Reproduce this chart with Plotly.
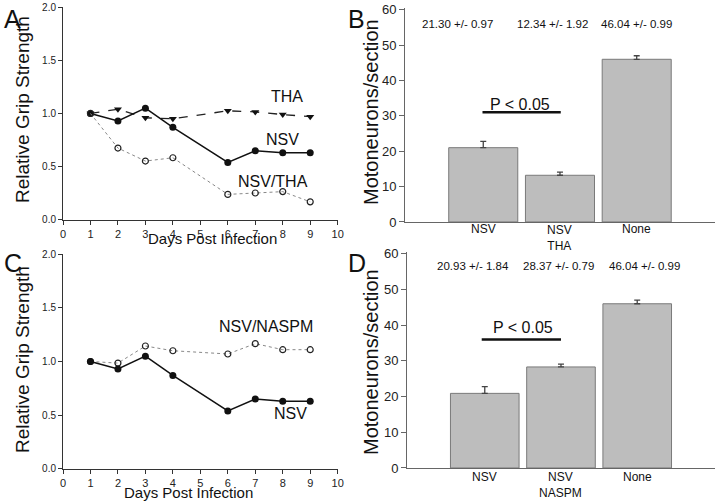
import plotly.graph_objects as go

# ---- data ----
days = [1, 2, 3, 4, 6, 7, 8, 9]
nsv_grip = [1.0, 0.93, 1.05, 0.87, 0.54, 0.65, 0.63, 0.63]
tha_grip = [1.0, 1.04, 0.96, 0.95, 1.025, 1.015, 0.99, 0.97]
nsv_tha_grip = [1.0, 0.675, 0.553, 0.584, 0.24, 0.253, 0.266, 0.17]
nsv_naspm_grip = [1.0, 0.985, 1.144, 1.10, 1.07, 1.166, 1.11, 1.11]

cats_b = ["NSV", "NSV<br>THA", "None"]
vals_b = [21.0, 13.2, 46.0]
errs_b = [1.8, 0.9, 1.0]
stats_b = ["21.30 +/- 0.97", "12.34 +/- 1.92", "46.04 +/- 0.99"]

cats_d = ["NSV", "NSV<br>NASPM", "None"]
vals_d = [20.9, 28.3, 46.0]
errs_d = [1.9, 0.8, 1.0]
stats_d = ["20.93 +/- 1.84", "28.37 +/- 0.79", "46.04 +/- 0.99"]

bar_ticks = [0, 10, 20, 30, 40, 50, 60]

FONT = "Liberation Sans, Arial, sans-serif"
AX = "#333333"

fig = go.Figure()

# Panel A
fig.add_trace(go.Scatter(x=days, y=tha_grip, mode="lines+markers", xaxis="x", yaxis="y",
                         line=dict(color="#222", width=1.3, dash="dash"),
                         marker=dict(symbol="triangle-down", size=7, color="#111")))
fig.add_trace(go.Scatter(x=days, y=nsv_grip, mode="lines+markers", xaxis="x", yaxis="y",
                         line=dict(color="#111", width=1.5),
                         marker=dict(symbol="circle", size=7, color="#111")))
fig.add_trace(go.Scatter(x=days, y=nsv_tha_grip, mode="lines+markers", xaxis="x", yaxis="y",
                         line=dict(color="#888", width=1, dash="dot"),
                         marker=dict(symbol="circle-open", size=6, color="#222", line=dict(width=1.2))))

# Panel C
fig.add_trace(go.Scatter(x=days, y=nsv_naspm_grip, mode="lines+markers", xaxis="x3", yaxis="y3",
                         line=dict(color="#888", width=1, dash="dot"),
                         marker=dict(symbol="circle-open", size=6, color="#222", line=dict(width=1.2))))
fig.add_trace(go.Scatter(x=days, y=nsv_grip, mode="lines+markers", xaxis="x3", yaxis="y3",
                         line=dict(color="#111", width=1.5),
                         marker=dict(symbol="circle", size=7, color="#111")))

# Panel B / D bars
bar_style = dict(marker=dict(color="#bdbdbd", line=dict(color="#7a7a7a", width=1)), width=0.9)
fig.add_trace(go.Bar(x=[0, 1, 2], y=vals_b, xaxis="x2", yaxis="y2",
                     error_y=dict(type="data", array=errs_b, arrayminus=[0, 0, 0], symmetric=False,
                                  color="#444", thickness=1.3, width=3), **bar_style))
fig.add_trace(go.Bar(x=[0, 1, 2], y=vals_d, xaxis="x4", yaxis="y4",
                     error_y=dict(type="data", array=errs_d, arrayminus=[0, 0, 0], symmetric=False,
                                  color="#444", thickness=1.3, width=3), **bar_style))

line_x = dict(range=[0, 10], tickvals=list(range(0, 11)), showline=True, linecolor=AX, linewidth=1,
              ticks="outside", ticklen=4, tickcolor=AX, showgrid=False, zeroline=False,
              tickfont=dict(size=11, color="#222"), ticklabeloverflow="allow")
line_y = dict(range=[0, 2.0], tickvals=[0, 0.5, 1.0, 1.5, 2.0], ticktext=["0.0", "0.5", "1.0", "1.5", "2.0"],
              showline=True, linecolor=AX, linewidth=1, ticks="outside", ticklen=4, tickcolor=AX,
              showgrid=False, zeroline=False, tickfont=dict(size=10, color="#222"), ticklabeloverflow="allow")
bar_x = dict(range=[-1.02, 3.02], tickvals=[0, 1, 2], showline=True, linecolor="#666", linewidth=1,
             ticks="", showgrid=False, zeroline=False, showticklabels=False)
bar_y = dict(range=[0, 60.5], tickvals=bar_ticks, showline=True, linecolor="#666", linewidth=1,
             ticks="outside", ticklen=5, tickcolor="#666", showgrid=False, zeroline=False,
             tickfont=dict(size=13, color="#222"), ticklabeloverflow="allow")

fig.update_layout(
    width=720, height=501, margin=dict(l=0, r=0, t=0, b=0, autoexpand=False),
    paper_bgcolor="white", plot_bgcolor="white", showlegend=False,
    font=dict(family=FONT, color="#222"),
    xaxis=dict(domain=[0.0875, 0.469], anchor="y", **line_x),
    yaxis=dict(domain=[0.561, 0.986], anchor="x", **line_y),
    xaxis3=dict(domain=[0.0875, 0.469], anchor="y3", **line_x),
    yaxis3=dict(domain=[0.0639, 0.493], anchor="x3", **line_y),
    xaxis2=dict(domain=[0.5625, 0.993], anchor="y2", **bar_x),
    yaxis2=dict(domain=[0.557, 0.984], anchor="x2", **bar_y),
    xaxis4=dict(domain=[0.5653, 0.993], anchor="y4", **bar_x),
    yaxis4=dict(domain=[0.0659, 0.497], anchor="x4", **bar_y),
)

ann = []
def txt(x, y, t, size, xref="paper", yref="paper", **kw):
    kw.setdefault("xanchor", "center")
    kw.setdefault("yanchor", "middle")
    ann.append(dict(x=x, y=y, text=t, xref=xref, yref=yref, showarrow=False,
                    font=dict(size=size, color="#111", family=FONT), **kw))

def py(p):  # pixel row -> paper y
    return 1 - p / 501

def px(p):  # pixel column -> paper x
    return p / 720

# panel letters
txt(px(2), py(19), "A", 25, xanchor="left")
txt(px(346), py(19), "B", 25, xanchor="left")
txt(px(2), py(263), "C", 25, xanchor="left")
txt(px(346), py(263), "D", 25, xanchor="left")

# axis titles
txt(px(22), py(110), "Relative Grip Strength", 19, textangle=-90)
txt(px(22), py(360), "Relative Grip Strength", 19, textangle=-90)
txt(px(212), py(239), "Days Post Infection", 15)
txt(px(188), py(492), "Days Post Infection", 15)
txt(px(371), py(112), "Motoneurons/section", 20, textangle=-90)
txt(px(371), py(362), "Motoneurons/section", 20, textangle=-90)

# category labels (bars)
for xc, c in zip([0, 1, 2], cats_b):
    txt(xc, py(238 if "<br>" in c else 229), c, 12, xref="x2")
for xc, c in zip([0, 1, 2], cats_d):
    txt(xc, py(485 if "<br>" in c else 477), c, 12, xref="x4")

# series labels
txt(8.15, 1.16, "THA", 16, xref="x", yref="y")
txt(8.0, 0.76, "NSV", 16, xref="x", yref="y")
txt(7.65, 0.36, "NSV/THA", 16, xref="x", yref="y")
txt(7.4, 1.33, "NSV/NASPM", 16, xref="x3", yref="y3")
txt(8.3, 0.52, "NSV", 16, xref="x3", yref="y3")

# stats
for xc, s in zip([-0.33, 0.9, 2.0], stats_b):
    txt(xc, 55.9, s, 11.5, xref="x2", yref="y2")
for xc, s in zip([-0.15, 0.97, 2.1], stats_d):
    txt(xc, 56.5, s, 11.5, xref="x4", yref="y4")

# P < 0.05
txt(0.48, 33.3, "P < 0.05", 16, xref="x2", yref="y2")
txt(0.5, 39.3, "P < 0.05", 16, xref="x4", yref="y4")

fig.update_layout(annotations=ann, shapes=[
    dict(type="line", xref="x2", yref="y2", x0=-0.01, x1=1.01, y0=31, y1=31, line=dict(color="#111", width=2.5)),
    dict(type="line", xref="x4", yref="y4", x0=-0.04, x1=1.0, y0=36, y1=36, line=dict(color="#111", width=2.5)),
])

fig.write_html("out.html", config={"displayModeBar": False},
               post_script="document.body.style.margin='0px';document.body.style.overflow='hidden';")
